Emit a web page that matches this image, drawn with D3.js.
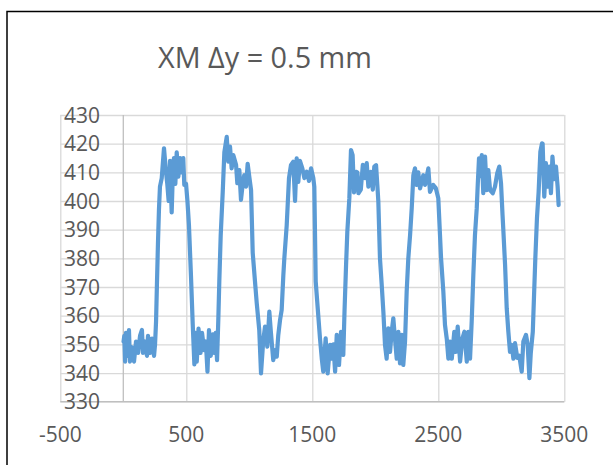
<!DOCTYPE html>
<html>
<head>
<meta charset="utf-8">
<script src="https://cdn.jsdelivr.net/npm/d3@7"></script>
<style>
  html, body { margin: 0; padding: 0; background: #fff; }
  svg { display: block; }
</style>
</head>
<body>
<div id="chart"></div>
<script>
// ---- data ----
const titleText = "XM \u0394y = 0.5 mm";
const xTicks = [-500, 500, 1500, 2500, 3500];
const yTicks = [330, 340, 350, 360, 370, 380, 390, 400, 410, 420, 430];

const xVals = [
  2, 8, 14, 21, 37, 45, 53, 69, 85, 101, 117, 133, 148, 156, 172, 188, 196, 212, 228, 244, 252,
  260, 267, 275, 283, 291, 305, 323, 339, 349, 360, 371, 384, 392, 402, 413, 424, 437, 450, 463, 476, 484, 498,
  509, 521, 537, 551, 564,
  573, 583, 597, 613, 625, 641, 655, 668, 680, 694, 710, 720, 733, 744, 754,
  762, 773, 789, 802, 821,
  833, 847, 860, 873, 895, 905, 921, 934, 948, 960, 974, 987, 1000, 1014,
  1027, 1045, 1059, 1079, 1093,
  1111, 1125, 1143, 1159, 1172, 1190, 1206, 1218, 1230, 1244,
  1257, 1270, 1278, 1297, 1315, 1331,
  1349, 1363, 1376, 1389, 1402, 1421, 1437, 1456, 1474, 1490, 1508, 1516,
  1527, 1543, 1561, 1575, 1587,
  1606, 1622, 1641, 1654, 1667, 1681, 1694, 1712, 1728, 1746,
  1756, 1768, 1778, 1794, 1807,
  1820, 1831, 1847, 1858, 1866, 1885, 1901, 1918, 1932, 1945, 1950, 1964, 1980, 1992, 2006, 2016,
  2024, 2037, 2051, 2064, 2077, 2090,
  2103, 2117, 2130, 2143, 2156, 2170, 2183, 2196, 2210, 2222, 2236,
  2249, 2262, 2276, 2289, 2302, 2315,
  2329, 2341, 2355, 2381, 2395, 2421, 2434, 2460, 2480, 2500,
  2522, 2540, 2553, 2567, 2580,
  2593, 2607, 2627, 2638, 2654, 2673, 2691, 2707, 2726, 2738, 2752, 2765,
  2778, 2791, 2805, 2813, 2823,
  2831, 2845, 2857, 2871, 2884, 2897, 2911, 2932, 2950, 2968, 2984, 2998,
  3010, 3016, 3030, 3043, 3056, 3069,
  3083, 3096, 3109, 3127, 3143, 3162, 3175, 3196, 3209, 3223, 3234, 3250,
  3270, 3283, 3296, 3310, 3323,
  3328, 3341, 3354, 3367, 3381, 3394, 3406, 3420, 3434, 3447, 3455
];
const yVals = [
  351, 353, 344, 354, 346, 355, 344, 349, 344, 351, 347, 353, 355, 347, 351, 346, 353, 347, 352, 346, 350,
  358, 371, 385, 397, 405, 408, 418.4, 410, 406, 400, 414, 396, 408, 415, 406, 417, 408.5, 415, 410, 415, 405.6, 406,
  400, 391.6, 374, 357, 343,
  354, 344, 355.5, 347, 354, 348, 351, 340.5, 355, 346, 353.5, 347, 354, 344.5, 358.5,
  372, 388, 403, 417, 422.4,
  413.7, 419, 411.4, 416, 412.6, 406.2, 410.8, 400.4, 406, 409, 405, 413, 408.5, 403.8,
  382, 372, 364.4, 355, 339.9,
  351.5, 356.2, 349.2, 361.4, 353.9, 344.5, 348, 345.7, 353.3, 358.5,
  362, 374, 380, 391.6, 408, 412.6,
  413.7, 400, 414.9, 406.7, 414, 411.4, 408, 410.2, 407, 411.4, 408, 405,
  372, 362.6, 352.1, 345.1, 340.5,
  352.1, 339.9, 349.8, 345, 350, 340.5, 353.3, 342.8, 354.4, 346.3,
  362, 377.7, 389.3, 401, 417.8,
  416, 403, 410.2, 410, 402.7, 404, 412.6, 408, 413.2, 405, 406.2, 410.2, 404, 412, 412.5, 405.6,
  400, 380, 370.7, 361.4, 349.8, 345,
  355.6, 347.4, 354.4, 359.1, 352, 345, 354.4, 343.4, 353.3, 342.8, 351,
  368.4, 380, 388.1, 397.4, 409, 411.4,
  405.6, 410, 404.4, 409, 405.6, 411.4, 403.2, 405.6, 404.5, 401,
  380, 368.4, 356.8, 352, 345,
  351, 345, 354.4, 347.4, 356.2, 344, 352, 354.4, 344, 354.4, 345, 357.9,
  374.2, 388.1, 397.4, 405.6, 414.9,
  408.7, 416, 402.7, 415.5, 403.8, 410.8, 403.8, 402.7, 405, 409.7, 412, 406,
  395, 390, 377.7, 362.6, 354.4, 347.4,
  349.8, 345, 350.4, 345.3, 346, 340.5, 351, 353.3, 350, 338.2, 347, 354.4,
  380, 394, 403, 417.2, 420.1,
  420, 401.5, 413.2, 405, 412, 402.7, 415.5, 407.6, 412, 405, 398.6
];

// ---- drawing ----
const W = 613, H = 465;
const svg = d3.select("#chart").append("svg").attr("width", W).attr("height", H);

// chart frame (only left/top edges fall inside the picture)
svg.append("rect")
  .attr("x", 7).attr("y", 11.5).attr("width", 800).attr("height", 800)
  .attr("fill", "#fff").attr("stroke", "#000").attr("stroke-width", 1.5);

const x = d3.scaleLinear().domain([-500, 3500]).range([60.3, 564.3]);
const y = d3.scaleLinear().domain([330, 430]).range([401.7, 115]);

const font = "'Open Sans', 'Liberation Sans', sans-serif";
const txtColor = "#595959";
const gridColor = "#d9d9d9";
const axisColor = "#bfbfbf";

// horizontal gridlines
const gy = d3.axisLeft(y).tickValues(yTicks).tickSize(-(x(3500) - x(-500))).tickFormat("");
svg.append("g").attr("transform", `translate(${x(-500)},0)`).call(gy)
  .call(g => g.select(".domain").remove())
  .call(g => g.selectAll("line").attr("stroke", gridColor).attr("stroke-width", 1.3));

// vertical gridlines
const gx = d3.axisBottom(x).tickValues(xTicks).tickSize(-(y(330) - y(430))).tickFormat("");
svg.append("g").attr("transform", `translate(0,${y(330)})`).call(gx)
  .call(g => g.select(".domain").remove())
  .call(g => g.selectAll("line").attr("stroke", gridColor).attr("stroke-width", 1.3));

// axis lines
svg.append("line").attr("x1", x(-500)).attr("x2", x(3500)).attr("y1", y(330)).attr("y2", y(330))
  .attr("stroke", axisColor).attr("stroke-width", 1.3);
svg.append("line").attr("x1", x(0)).attr("x2", x(0)).attr("y1", y(430)).attr("y2", y(330))
  .attr("stroke", axisColor).attr("stroke-width", 1.3);

// y tick labels
svg.append("g").selectAll("text").data(yTicks).join("text")
  .attr("x", 100).attr("y", d => y(d)).attr("dy", "0.36em")
  .attr("text-anchor", "end")
  .attr("font-family", font).attr("font-size", 21).attr("fill", txtColor)
  .text(d => d);

// x tick labels
svg.append("g").selectAll("text").data(xTicks).join("text")
  .attr("x", d => x(d)).attr("y", 442)
  .attr("text-anchor", "middle")
  .attr("font-family", font).attr("font-size", 21).attr("fill", txtColor)
  .text(d => d);

// series line
const pts = xVals.map((v, i) => [v, yVals[i]]);
svg.append("path").datum(pts)
  .attr("fill", "none").attr("stroke", "#5b9bd5").attr("stroke-width", 4.2)
  .attr("stroke-linejoin", "round").attr("stroke-linecap", "round")
  .attr("d", d3.line().x(d => x(d[0])).y(d => y(d[1])));

// title
const title = svg.append("text")
  .attr("x", 265).attr("y", 68)
  .attr("text-anchor", "middle")
  .attr("font-family", font).attr("font-size", 27).attr("fill", txtColor)
  .text(titleText);
const tw = title.node().getComputedTextLength();
if (tw > 0) title.attr("font-size", 27 * 214 / tw);
</script>
</body>
</html>
